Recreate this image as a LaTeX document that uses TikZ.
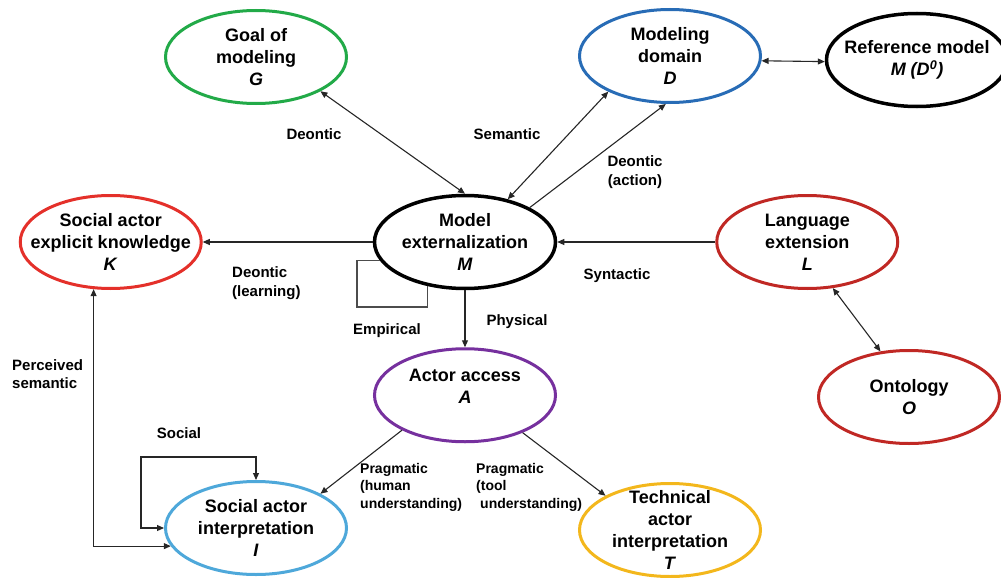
\documentclass[tikz,border=0pt]{standalone}
\usepackage{fontspec}
\setmainfont{Liberation Sans}
\usepackage{xcolor}
\usetikzlibrary{shapes.geometric, arrows.meta, positioning}

\definecolor{goalgreen}{RGB}{34,170,72}
\definecolor{domainblue}{RGB}{40,108,182}
\definecolor{knowred}{RGB}{228,48,42}
\definecolor{langred}{RGB}{192,40,36}
\definecolor{accesspurple}{RGB}{118,48,158}
\definecolor{interpblue}{RGB}{78,168,218}
\definecolor{techyellow}{RGB}{243,183,28}

\begin{document}
\begin{tikzpicture}[
    x=1pt, y=-1pt,
    concept/.style={ellipse, draw=black, line width=3pt, minimum width=181pt, minimum height=93pt, inner xsep=-20pt, inner ysep=-12pt, align=center, font=\fontsize{18}{22}\selectfont\bfseries},
    arrow/.style={-{Triangle[length=7pt,width=6pt]}, line width=1.1pt, draw=black!85},
    biarrow/.style={{Triangle[length=7pt,width=6pt]}-{Triangle[length=7pt,width=6pt]}, line width=1.1pt, draw=black!85},
    plain/.style={line width=1.1pt, draw=black!70},
    edgelabel/.style={font=\fontsize{15}{19}\selectfont\bfseries, align=left, inner sep=0pt},
    smalllabel/.style={font=\fontsize{14}{17.5}\selectfont\bfseries, align=left, inner sep=0pt},
]
\useasboundingbox (0,0) rectangle (1001,578);

% Middle row
\node[concept, line width=3.5pt] (M) at (465,242) {Model\\externalization\\\textit{M}};
\node[concept, draw=knowred, left=170pt of M] (K) {Social actor\\explicit knowledge\\\textit{K}};
\node[concept, draw=langred, right=158pt of M] (L) {Language\\extension\\\textit{L}};

% Top row
\node[concept, draw=goalgreen] (G) at (256,57) {Goal of\\modeling\\\textit{G}};
\node[concept, draw=domainblue] (D) at (670,56) {Modeling\\domain\\\textit{D}};
\node[concept, line width=3.5pt] (R) at (917,60) {Reference model\\\textit{M (D\textsuperscript{0})}};

% Lower rows
\node[concept, draw=accesspurple, below=57pt of M] (A) {Actor access\\\textit{A}\\[-4pt]\mbox{}};
\node[concept, draw=langred] (O) at (909,397) {Ontology\\\textit{O}};
\node[concept, draw=interpblue] (I) at (256,528) {Social actor\\interpretation\\\textit{I}};
\node[concept, draw=techyellow] (T) at (670,530) {Technical\\actor\\interpretation\\\textit{T}};

% Loop corners
\coordinate (emp) at (357,307);
\coordinate (soc) at (141,457);

% Arrows
\draw[biarrow] (G.332) -- (M.north);
\draw[biarrow] (M.45) -- (D.210);
\draw[arrow] (M.28) -- (D.265);
\draw[biarrow] (D.357) -- (R.181);
\draw[arrow] (M.west) -- (K.east);
\draw[arrow] (L.west) -- (M.east);
\draw[biarrow] (L.299) -- (O.122);
\draw[arrow] (M.south) -- (A.north);
\draw[plain] (M.192) -| (emp) -| (M.230);
\draw[arrow] (A.209) -- (I.28);
\draw[arrow] (A.327) -- (T.152);
\draw[biarrow] (I.north) |- (soc) |- (I.west);
\draw[biarrow] (I.192) -| (K.250);

% Labels
\node[edgelabel] (lgoal) at (314,134) {Deontic};
\node[edgelabel] (lsem) at (507,134) {Semantic};
\node[edgelabel, align=center] (lact) at (635,172) {Deontic\\(action)};
\node[edgelabel, anchor=west] (llearn) at (232,283) {Deontic\\(learning)};
\node[edgelabel] (lsyn) at (617,276) {Syntactic};
\node[edgelabel] (lemp) at (387,331) {Empirical};
\node[edgelabel] (lphys) at (517,322) {Physical};
\node[smalllabel, anchor=west] (lhum) at (360,487) {Pragmatic\\(human\\understanding)};
\node[smalllabel, anchor=west] (ltool) at (476,487) {Pragmatic\\(tool\\\hspace{4pt}understanding)};
\node[edgelabel] (lsoc) at (179,433) {Social};
\node[edgelabel, font=\fontsize{15}{18}\selectfont\bfseries, anchor=west] (lperc) at (12,374) {Perceived\\semantic};

\end{tikzpicture}
\end{document}
